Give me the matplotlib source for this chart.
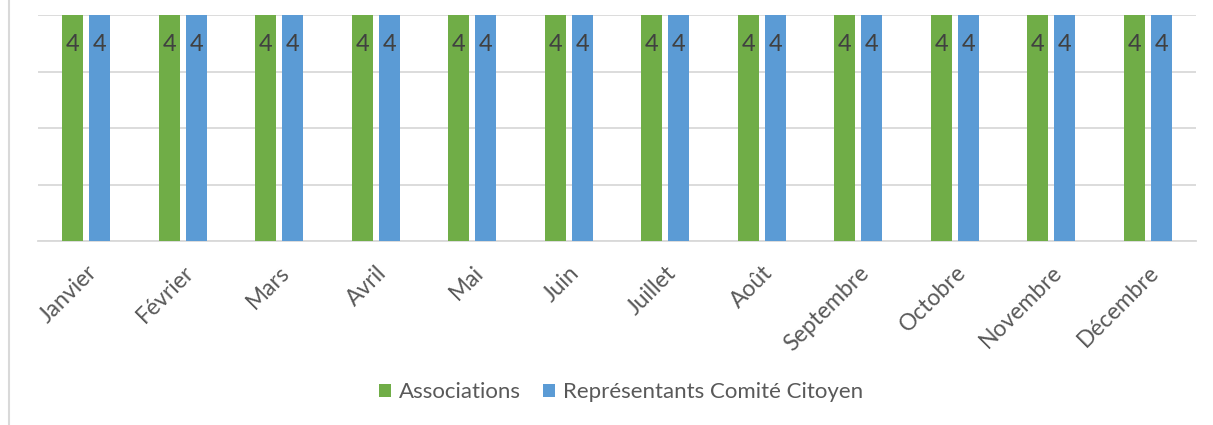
import numpy as np
import matplotlib.pyplot as plt
from matplotlib.lines import Line2D

months = ['Janvier', 'Février', 'Mars', 'Avril', 'Mai', 'Juin', 'Juillet',
          'Août', 'Septembre', 'Octobre', 'Novembre', 'Décembre']
associations = [4, 4, 4, 4, 4, 4, 4, 4, 4, 4, 4, 4]
representants = [4, 4, 4, 4, 4, 4, 4, 4, 4, 4, 4, 4]
series_names = ['Associations', 'Représentants Comité Citoyen']

plt.rcParams['font.family'] = ['Lato', 'DejaVu Sans']

fig = plt.figure(figsize=(12.13, 4.25), dpi=100)
ax = fig.add_axes([0.0313, 0.4329, 0.9547, 0.5318])

x = np.arange(len(months))
w = 0.218
off = 0.14
b1 = ax.bar(x - off, associations, w, color='#70AD47', label=series_names[0], zorder=3)
b2 = ax.bar(x + off, representants, w, color='#5B9BD5', label=series_names[1], zorder=3)

for bars in (b1, b2):
    for r in bars:
        ax.annotate('%d' % r.get_height(), (r.get_x() + r.get_width() / 2, r.get_height()),
                    xytext=(0, -21), textcoords='offset points', ha='center', va='center',
                    fontsize=17, color='#404040', zorder=4)

ax.set_xlim(-0.5, len(months) - 0.5)
ax.set_ylim(0, 4)
ax.set_yticks([0, 1, 2, 3, 4])
ax.yaxis.grid(True, color='#d9d9d9', lw=1.3, zorder=0)
ax.tick_params(axis='y', left=False, labelleft=False)
ax.tick_params(axis='x', length=0, pad=15)
ax.set_xticks(x)
ax.set_xticklabels(months, rotation=45, ha='right', va='top', rotation_mode='anchor',
                   fontsize=16.5, color='#595959')
for s in ['top', 'right', 'left']:
    ax.spines[s].set_visible(False)
ax.spines['bottom'].set_color('#d9d9d9')
ax.spines['bottom'].set_linewidth(1.3)

fig.legend(handles=[b1, b2], labels=series_names, loc='center', bbox_to_anchor=(0.512, 0.077),
           ncol=2, frameon=False, fontsize=16, labelcolor='#595959',
           handlelength=0.55, handleheight=0.55, handletextpad=0.35, columnspacing=1.0)

fig.add_artist(Line2D([0.0075, 0.0075], [0, 1], transform=fig.transFigure, color='#d9d9d9', lw=1.5))

fig.savefig('out.png', dpi=100)
